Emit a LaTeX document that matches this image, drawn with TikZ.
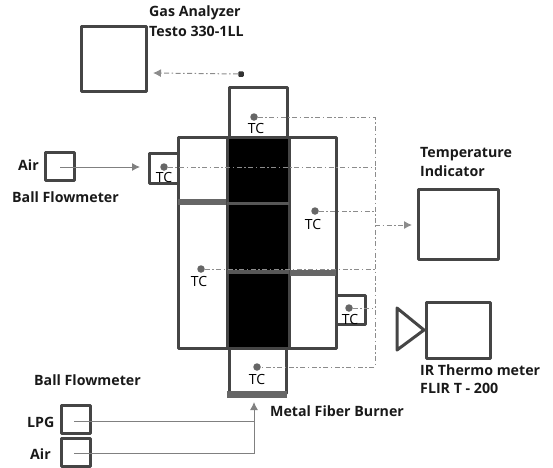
\documentclass[tikz,border=0pt]{standalone}
\usepackage{fontspec}
\setmainfont{Open Sans}
\usetikzlibrary{arrows.meta,calc}
\definecolor{boxc}{gray}{0.27}
\definecolor{linec}{gray}{0.5}
\definecolor{dashc}{gray}{0.55}
\tikzset{
  x=1pt,y=-1pt,
  boxn/.style={draw=boxc,line width=3pt,fill=white,inner sep=0pt,line join=round},
  lbl/.style={font=\bfseries\fontsize{14.2}{15}\selectfont,text=black!90,inner sep=0pt,anchor=west},
  tcl/.style={font=\fontsize{14}{15}\selectfont,text=black,inner sep=0pt},
  tcdot/.style={circle,fill=black!60,inner sep=0pt,minimum size=7.5pt},
  sig/.style={draw=dashc,line width=1pt,dash pattern=on 5pt off 2.5pt on 1.5pt off 2.5pt},
  sigarrow/.style={sig,-{Latex[length=8pt,width=8pt]}},
  feed/.style={draw=linec,line width=1pt},
  feedarrow/.style={feed,-{Latex[length=8pt,width=8pt]}},
  bar/.style={fill=boxc!90,draw=none,inner sep=0pt},
}
\newcommand{\boxat}[5]{\node[boxn,minimum width=#4-#2,minimum height=#5-#3] (#1) at ({(#2+#4)/2},{(#3+#5)/2}) {};}
\begin{document}
\begin{tikzpicture}
\useasboundingbox (0,0) rectangle (553,467);
% boxes
\boxat{gas}{81}{26}{146}{91}
\boxat{topbox}{229}{87}{287}{137}
\boxat{smallL}{149}{153}{178}{183}
\boxat{smallR}{336}{295}{365}{324}
\boxat{botbox}{229}{348}{286}{393}
\boxat{mainL}{178}{137}{227}{348}
\boxat{mainR}{289}{137}{336}{348}
\node[draw=boxc,line width=3pt,fill=black,inner sep=0pt,minimum width=62pt,minimum height=211pt] (core) at (258,242.5) {};
\node[bar,minimum width=62pt,minimum height=3pt] (div1) at (258,203) {};
\node[bar,minimum width=62pt,minimum height=3.5pt] (div2) at (258,272) {};
\node[bar,minimum width=48pt,minimum height=6.5pt,fill=black!60] (bafL) at (202,202) {};
\node[bar,minimum width=46pt,minimum height=6.5pt,fill=black!60] (bafR) at (312.5,273) {};
\node[bar,minimum width=60pt,minimum height=7pt,fill=black!60] (burner) at (257,394) {};
\boxat{indicator}{418}{189}{498}{259}
\boxat{ir}{426}{302}{490}{358}
\boxat{airA}{45}{152}{74}{180}
\boxat{lpg}{61}{405}{90}{433}
\boxat{airB}{61}{438}{90}{466}
\draw[boxc,line width=3pt,line join=round] (397,308) -- (424,330) -- (397,350) -- cycle;
% sensor points
\node[tcdot] (t1) at (254,117) {};
\node[tcdot] (t2) at (164,167) {};
\node[tcdot] (t3) at (315,211) {};
\node[tcdot] (t4) at (201,269) {};
\node[tcdot] (t5) at (349,308) {};
\node[tcdot] (t6) at (257,367) {};
\node[rectangle,rounded corners=1pt,fill=black!80,inner sep=0pt,minimum size=5.5pt] (probe) at (241,74) {};
\coordinate (busT) at (375,118);
\coordinate (busB) at (375,367);
\coordinate (busM) at (375,225);
\coordinate (gasin) at (153,73);
\coordinate (indin) at (412,225);
\coordinate (airin) at (140,167);
\coordinate (airstart) at (60,167);
\coordinate (lpgstart) at (74,421);
\coordinate (airbstart) at (74,453);
\coordinate (burnerin) at (254,402);
% signal lines
\draw[sig] (t1) -- (t1 -| busT) -- (busB) -- (t6);
\draw[sig] (t2) -- (t2 -| busT);
\draw[sig] (t3) -- (t3 -| busT);
\draw[sig] (t4) -- (t4 -| busT);
\draw[sig] (t5) -- (t5 -| busT);
\draw[sigarrow] (busM) -- (indin);
\draw[sigarrow] (probe) -- (gasin);
% feeds
\draw[feedarrow] (airstart) -- (airin);
\draw[feed] (lpgstart) -- (lpgstart -| burnerin);
\draw[feedarrow] (airbstart) -- (airbstart -| burnerin) -- (burnerin);
% TC labels
\node[tcl] (l1) at (256,128) {TC};
\node[tcl] (l2) at (164,177) {TC};
\node[tcl] (l3) at (313,224) {TC};
\node[tcl] (l4) at (199,281) {TC};
\node[tcl] (l5) at (350,319) {TC};
\node[tcl] (l6) at (257,379) {TC};
% labels
\node[lbl] (a1) at (149,13) {Gas Analyzer};
\node[lbl] (a2) at (149,31) {Testo 330-1LL};
\node[lbl] (a3) at (420,154) {Temperature};
\node[lbl] (a4) at (420,171) {Indicator};
\node[lbl] (a5) at (18,165) {Air};
\node[lbl] (a6) at (12,197) {Ball Flowmeter};
\node[lbl] (a7) at (34,380) {Ball Flowmeter};
\node[lbl] (a8) at (27,422) {LPG};
\node[lbl] (a9) at (30,454) {Air};
\node[lbl] (a10) at (270,411) {Metal Fiber Burner};
\node[lbl] (a11) at (420,370) {IR Thermo meter};
\node[lbl] (a12) at (420,388) {FLIR T - 200};
\end{tikzpicture}
\end{document}
